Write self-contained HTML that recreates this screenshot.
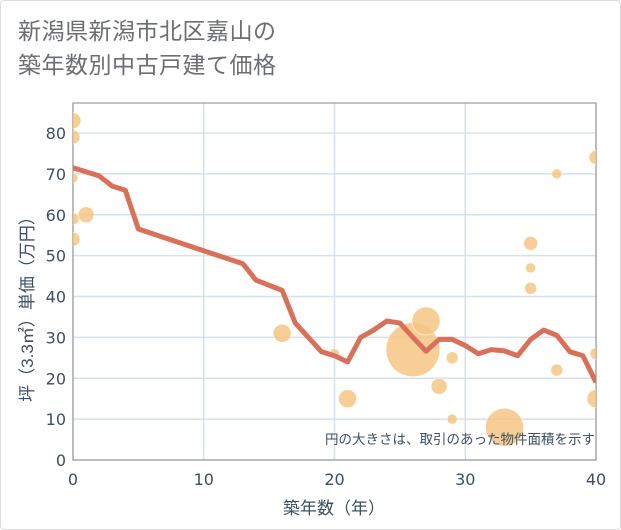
<!DOCTYPE html>
<html><head><meta charset="utf-8"><style>
html,body{margin:0;padding:0;background:#fff}
body{width:621px;height:530px;overflow:hidden;font-family:"Liberation Sans","Noto Sans CJK JP",sans-serif}
#frame{position:absolute;left:0;top:0;width:619px;height:528px;border:1px solid #ddd;border-radius:4px;background:#fff}
#title{position:absolute;left:18px;top:14px;font-size:23px;line-height:34px;color:#6b6e73;letter-spacing:0.5px}
</style></head><body>
<div id="frame"></div>
<div id="title">新潟県新潟市北区嘉山の<br>築年数別中古戸建て価格</div>
<svg id="chart" width="621" height="530" style="position:absolute;left:0;top:0"></svg>
<script>
const lineYears=[0,2,3,4,5,13,14,16,17,19,20,21,22,23,24,25,26,27,28,29,30,31,32,33,34,35,36,37,38,39,40];
const lineValues=[71.5,69.5,67,66,56.5,48,44,41.5,33.5,26.5,25.5,24,30,31.8,34,33.5,30,26.6,29.5,29.5,28,26,27,26.7,25.5,29.5,31.8,30.5,26.5,25.5,19];
const bubbleYears=[0,0,0,0,0,1,16,20,21,26,27,28,29,29,33,35,35,35,37,37,40,40,40];
const bubbleValues=[83,79,69,59,54,60,31,26,15,27,34,18,25,10,8,53,47,42,70,22,74,26,15];
const bubbleSizes=[8,7,5,6,7,8,9,5,9,27,14,8,6,5,19,7,5,6,5,6,7,6,9];
const xTicks=[0,10,20,30,40];
const yTicks=[0,10,20,30,40,50,60,70,80];
const NS='http://www.w3.org/2000/svg';
const svg=document.getElementById('chart');
const L=73,R=596,T=103,B=460;
const TF='"DejaVu Sans","Liberation Sans",sans-serif';
const xs=v=>L+(v-0)/40*(R-L);
const ys=v=>B-v*4.0875;
function mk(tag,attrs,parent){const e=document.createElementNS(NS,tag);for(const k in attrs)e.setAttribute(k,attrs[k]);(parent||svg).appendChild(e);return e;}
const defs=mk('clipPath',{id:'clip'});mk('rect',{x:L,y:T,width:R-L,height:B-T},defs);
const grid=mk('g',{});


yTicks.forEach(t=>{mk('line',{x1:L,x2:R,y1:ys(t),y2:ys(t),stroke:'#d5e1ec','stroke-width':1.5},grid);
 const tx=mk('text',{x:L-7,y:ys(t)+6,'text-anchor':'end','font-size':16,'font-family':TF,fill:'#3d4f63'});tx.textContent=t;
 });
xTicks.forEach(t=>{mk('line',{x1:xs(t),x2:xs(t),y1:T,y2:B,stroke:'#d5e1ec','stroke-width':1.5},grid);
 const tx=mk('text',{x:xs(t),y:B+25,'text-anchor':'middle','font-size':16,'font-family':TF,fill:'#3d4f63'});tx.textContent=t;
 });
const border=mk('rect',{x:L,y:T,width:R-L,height:B-T,fill:'none',stroke:'#999','stroke-width':1.2});


const bg=mk('g',{'clip-path':'url(#clip)'});
bubbleYears.forEach((y,i)=>{const c=mk('circle',{cx:xs(y),cy:ys(bubbleValues[i]),r:bubbleSizes[i],fill:'#f5c57f','fill-opacity':0.82,stroke:'#fff','stroke-width':0.5},bg);
 });
const pts=lineYears.map((y,i)=>xs(y)+','+ys(lineValues[i])).join(' ');
const pl=mk('polyline',{points:pts,fill:'none',stroke:'#d9705a','stroke-width':5,'stroke-linejoin':'round'},bg);


const note=mk('text',{x:595,y:444,'text-anchor':'end','font-size':13.5,fill:'#3d4f63'});note.textContent='円の大きさは、取引のあった物件面積を示す';


const xt=mk('text',{x:334,y:514,'text-anchor':'middle','font-size':17,fill:'#3d4f63'});xt.textContent='築年数（年）';


const yt=mk('text',{x:0,y:0,'text-anchor':'middle','font-size':17,fill:'#3d4f63',transform:'translate(33,305) rotate(-90)'});yt.textContent='坪（3.3㎡）単価（万円）';


</script>
</body></html>
